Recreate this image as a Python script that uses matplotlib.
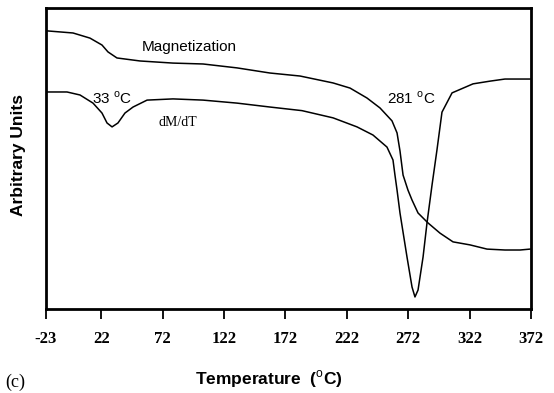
import matplotlib
matplotlib.use("Agg")
import matplotlib.pyplot as plt

plt.rcParams['mathtext.fontset'] = 'custom'
plt.rcParams['mathtext.rm'] = 'Liberation Sans'

# Magnetization curve (temperature, arbitrary units)
mag_t = [-22.2, -1.0, 12.8, 22.6, 27.5, 34.8, 53.6, 80.4, 104.9, 132.6, 159.4,
         183.9, 210.8, 224.6, 238.4, 249.0, 258.8, 262.9, 265.3, 267.8, 271.8,
         275.1, 280.0, 288.1, 297.9, 308.5, 322.3, 336.2, 350.8, 363.1, 371.2]
mag_v = [92.4, 91.7, 90.0, 87.7, 85.4, 83.4, 82.4, 81.7, 81.4, 80.1, 78.4,
         77.4, 75.1, 73.4, 70.1, 66.8, 62.5, 58.5, 52.5, 44.5, 39.5,
         36.2, 31.9, 28.6, 25.2, 22.3, 21.3, 19.9, 19.6, 19.6, 19.9]

# dM/dT curve
dmdt_t = [-22.2, -5.9, 4.7, 15.3, 22.6, 26.7, 30.8, 35.6, 41.3, 47.9, 59.3,
          80.4, 104.9, 132.6, 159.4, 185.5, 210.8, 230.3, 243.3, 254.7, 259.6,
          261.2, 262.9, 265.3, 271.0, 275.1, 277.5, 280.0, 284.1, 287.3, 291.4,
          295.4, 299.5, 307.7, 324.8, 338.6, 350.8, 371.2]
dmdt_v = [72.1, 72.1, 71.1, 68.4, 65.1, 61.8, 60.5, 61.8, 65.1, 67.1, 69.4,
          69.8, 69.4, 68.4, 67.1, 65.9, 63.5, 60.5, 57.8, 53.8, 49.5,
          44.5, 39.5, 31.9, 17.3, 7.3, 4.0, 6.3, 17.3, 28.6, 41.2,
          52.8, 65.4, 71.8, 74.8, 75.7, 76.4, 76.4]

xticks = [-23, 22, 72, 122, 172, 222, 272, 322, 372]

fig = plt.figure(figsize=(5.54, 3.93), dpi=100)
ax = fig.add_axes([46/554, (393-309)/393, 485/554, 301/393])

ax.plot(mag_t, mag_v, color='black', lw=1.1)
ax.plot(dmdt_t, dmdt_v, color='black', lw=1.1)

ax.set_xlim(-23, 372)
ax.set_ylim(0, 100)
ax.set_yticks([])
ax.set_xticks(xticks)
ax.set_xticklabels([str(t) for t in xticks], family='Liberation Serif',
                   fontweight='bold', fontsize=12)
ax.tick_params(axis='x', direction='out', length=7, width=1.3, pad=9)
for s in ax.spines.values():
    s.set_linewidth(2.0)

ax.text(0.198, 0.869, 'Magnetization', transform=ax.transAxes,
        family='Liberation Sans', fontsize=11, ha='left', va='center')
ax.text(0.0948, 0.684, r'33 $^{\mathrm{o}}$C', transform=ax.transAxes,
        family='Liberation Sans', fontsize=11, ha='left', va='baseline')
ax.text(0.703, 0.684, r'281 $^{\mathrm{o}}$C', transform=ax.transAxes,
        family='Liberation Sans', fontsize=11, ha='left', va='baseline')
ax.text(0.231, 0.618, 'dM/dT', transform=ax.transAxes,
        family='Liberation Serif', fontsize=10, ha='left', va='center')

fig.text(19/554, (393-155)/393, 'Arbitrary Units', rotation=90,
         family='Liberation Sans', fontweight='bold', fontsize=12.5,
         ha='center', va='center')
fig.text(269/554, 0.036, r'Temperature  ($^{\mathrm{o}}$C)',
         family='Liberation Sans', fontweight='bold', fontsize=12.5,
         ha='center', va='center')
fig.text(5/554, 0.028, '(c)', family='Liberation Serif', fontsize=13,
         ha='left', va='center')

fig.savefig('out.png', dpi=100)
